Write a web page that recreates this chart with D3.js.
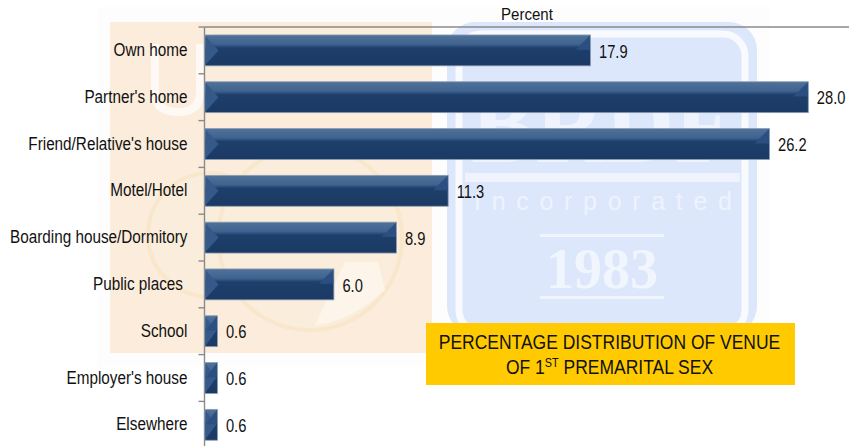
<!DOCTYPE html>
<html><head><meta charset="utf-8">
<script src="https://cdn.jsdelivr.net/npm/d3@7"></script>
<style>html,body{margin:0;padding:0;background:#fff}svg{display:block}text{font-family:"Liberation Sans",Arial,sans-serif}</style>
</head><body><div id="c"></div>
<script>
const categories=["Own home","Partner's home","Friend/Relative's house","Motel/Hotel","Boarding house/Dormitory","Public places","School","Employer's house","Elsewhere"];
const values=[17.9,28.0,26.2,11.3,8.9,6.0,0.6,0.6,0.6];
const labels=["17.9","28.0","26.2","11.3","8.9","6.0","0.6","0.6","0.6"];
const W=849,H=446;
const svg=d3.select("#c").append("svg").attr("width",W).attr("height",H);
const defs=svg.append("defs");
const grad=defs.append("linearGradient").attr("id","bar").attr("x1",0).attr("x2",0).attr("y1",0).attr("y2",1);
[[0,"#507299"],[.3,"#3f6390"],[.42,"#1e3f6b"],[1,"#1a3a64"]].forEach(d=>grad.append("stop").attr("offset",d[0]).attr("stop-color",d[1]));
function condense(sel,f){sel.each(function(){const n=this.getComputedTextLength();d3.select(this).attr("textLength",n*f).attr("lengthAdjust","spacingAndGlyphs");});}

// watermark background
const bg=svg.append("g");
bg.append("rect").attr("x",97).attr("y",7).attr("width",673).attr("height",360).attr("fill","#fdfdfd");
bg.append("rect").attr("x",110).attr("y",22).attr("width",322).attr("height",331).attr("fill","#fcecdc");
bg.append("path").attr("d","M155 44 V92 Q155 112 178 112 Q200 112 200 92 V44").attr("fill","none").attr("stroke","#fff").attr("stroke-width",8).attr("opacity",.7);
[[210,235,62],[310,238,92]].forEach(c=>bg.append("circle").attr("cx",c[0]).attr("cy",c[1]).attr("r",c[2]).attr("fill","#fbeddb").attr("stroke","#f9e7cb").attr("stroke-width",4));
bg.append("path").attr("d","M315 325 L345 262 L378 262 L385 290 Q350 322 315 325Z").attr("fill","#fdf5ea");
bg.append("rect").attr("x",447).attr("y",22).attr("width",310).attr("height",312).attr("rx",28).attr("fill","#dce7fb");
bg.append("rect").attr("x",459).attr("y",34).attr("width",286).attr("height",298).attr("rx",22).attr("fill","none").attr("stroke","#f8fafe").attr("stroke-width",7);
bg.append("text").attr("x",602).attr("y",162).attr("text-anchor","middle").attr("font-size",112).attr("font-weight",700).attr("fill","#eef3fd").style("font-family","'Liberation Serif',serif").attr("textLength",262).attr("lengthAdjust","spacingAndGlyphs").text("BRDF");
bg.append("rect").attr("x",465).attr("y",173).attr("width",275).attr("height",9).attr("fill","#eef3fd");
bg.append("text").attr("x",603).attr("y",210).attr("text-anchor","middle").attr("font-size",25).attr("fill","#eef3fd").attr("textLength",258).text("Incorporated");
bg.append("rect").attr("x",540).attr("y",234).attr("width",124).attr("height",3).attr("fill","#eff4fd");
bg.append("text").attr("x",602).attr("y",288).attr("text-anchor","middle").attr("font-size",56).attr("fill","#f1f5fd").style("font-family","'Liberation Serif',serif").attr("font-weight",700).text("1983");
bg.append("rect").attr("x",540).attr("y",296).attr("width",124).attr("height",3).attr("fill","#eff4fd");

const x0=204.5,topY=27,step=46.8;
const xs=d3.scaleLinear().domain([0,28]).range([x0,808.3]);
const ys=d3.scaleBand().domain(categories).range([topY,topY+step*categories.length]).paddingInner(.34).paddingOuter(.17);

// axes
const ax=svg.append("g").attr("stroke","#8a8a8a").attr("stroke-width",1.4);
ax.append("line").attr("x1",x0).attr("x2",W).attr("y1",topY).attr("y2",topY);
ax.append("line").attr("x1",x0).attr("x2",x0).attr("y1",topY).attr("y2",H);
categories.forEach((c,i)=>ax.append("line").attr("x1",x0-6).attr("x2",x0).attr("y1",topY+i*step).attr("y2",topY+i*step));

// bars
const bars=svg.selectAll("g.b").data(categories).join("g").attr("class","b");
const bh=ys.bandwidth();
bars.append("rect").attr("x",x0+.5).attr("y",c=>ys(c)).attr("width",(c,i)=>xs(values[i])-x0-.5).attr("height",bh).attr("fill","url(#bar)").attr("stroke","#8c9db3").attr("stroke-width",.8);
// bevels
bars.append("path").attr("fill","#355a8a").attr("d",(c,i)=>{const w=xs(values[i])-x0,t=ys(c),e=Math.min(14,w*.9);return `M${x0+1} ${t+1} L${x0+e} ${t+bh*.5} L${x0+1} ${t+bh-1}Z`});
bars.append("path").attr("fill","#2a4f80").attr("d",(c,i)=>{const r=xs(values[i]),t=ys(c),w=r-x0,e=Math.min(15,w*.9);return `M${r-.5} ${t+.5} L${r-e} ${t+bh*.48} L${r-.5} ${t+bh*.48}Z`});

// category labels
svg.selectAll("text.c").data(categories).join("text").attr("class","c")
 .attr("x",c=>c==="Public places"?183:187.5).attr("y",c=>ys(c)+bh/2-.5).attr("dy",".35em").attr("text-anchor","end")
 .attr("font-size",17.5).attr("fill","#111").text(c=>c).call(condense,.873);
// value labels
svg.selectAll("text.v").data(labels).join("text").attr("class","v")
 .attr("x",(d,i)=>xs(values[i])+8.5).attr("y",(d,i)=>ys(categories[i])+bh/2+1).attr("dy",".35em")
 .attr("font-size",17.5).attr("fill","#111").text(d=>d).call(condense,.84);

svg.append("text").attr("x",527).attr("y",20).attr("text-anchor","middle").attr("font-size",16).attr("fill","#111").text("Percent").call(condense,.94);

// callout
svg.append("rect").attr("x",426).attr("y",323).attr("width",369).attr("height",62).attr("fill","#ffcb00");
const tg=svg.append("g").attr("font-size",21).attr("fill","#111").attr("text-anchor","middle").attr("transform","translate(609.5,0) scale(.833,1)");
tg.append("text").attr("x",0).attr("y",349).text("PERCENTAGE DISTRIBUTION OF VENUE");
const l2=tg.append("text").attr("x",0).attr("y",374);
l2.append("tspan").text("OF 1");
l2.append("tspan").attr("font-size",13).attr("dy",-7).text("ST");
l2.append("tspan").attr("dy",7).text(" PREMARITAL SEX");
</script></body></html>
